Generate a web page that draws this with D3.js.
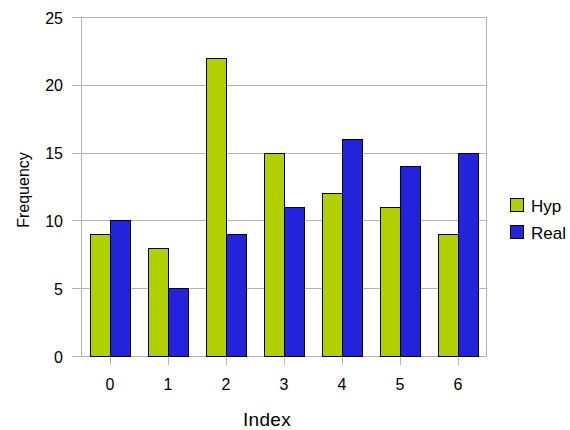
<!DOCTYPE html>
<html><head><meta charset="utf-8">
<script src="https://cdn.jsdelivr.net/npm/d3@7"></script>
<style>body{margin:0;background:#fff}svg{display:block}text{font-family:"Liberation Sans",Arial,sans-serif;fill:#000}</style>
</head><body>
<script>
const categories = ["0","1","2","3","4","5","6"];
const seriesNames = ["Hyp","Real"];
const hyp = [9, 8, 22, 15, 12, 11, 9];
const real = [10, 5, 9, 11, 16, 14, 15];
const yTicks = [0, 5, 10, 15, 20, 25];
const colors = ["#b2d000", "#2323dc"];

(function () {
const W = 570, H = 430;
const mLeft = 81, mRight = 487, mTop = 17, mBottom = 356;
const svg = d3.select("body").append("svg").attr("width", W).attr("height", H);

const x = d3.scaleBand().domain(categories).range([mLeft, mRight]).paddingInner(0).paddingOuter(0);
const x1 = d3.scaleBand().domain(seriesNames).range([0, x.bandwidth()]).paddingInner(0).paddingOuter(0.45);
const y = d3.scaleLinear().domain([0, 25]).range([mBottom, mTop]);

// gridlines
svg.append("g").selectAll("line").data(yTicks).join("line")
  .attr("x1", mLeft - 9).attr("x2", mRight)
  .attr("y1", d => Math.round(y(d)) + 0.5).attr("y2", d => Math.round(y(d)) + 0.5)
  .attr("stroke", "#b3b3b3").attr("stroke-width", 1);
// y axis line and right border
svg.append("line").attr("x1", mLeft + 0.5).attr("x2", mLeft + 0.5).attr("y1", mTop).attr("y2", mBottom)
  .attr("stroke", "#b3b3b3");
svg.append("line").attr("x1", mRight - 0.5).attr("x2", mRight - 0.5).attr("y1", mTop).attr("y2", mBottom)
  .attr("stroke", "#b3b3b3");
// x ticks
svg.append("g").selectAll("line").data(categories).join("line")
  .attr("x1", d => Math.round(x(d) + x.bandwidth() / 2) + 0.5)
  .attr("x2", d => Math.round(x(d) + x.bandwidth() / 2) + 0.5)
  .attr("y1", mBottom).attr("y2", mBottom + 9).attr("stroke", "#b3b3b3");

// y tick labels
svg.append("g").selectAll("text").data(yTicks).join("text")
  .attr("x", 63).attr("y", d => y(d) + 6.5).attr("text-anchor", "end")
  .attr("font-size", 16).text(d => d);
// x tick labels
svg.append("g").selectAll("text").data(categories).join("text")
  .attr("x", d => x(d) + x.bandwidth() / 2).attr("y", 390).attr("text-anchor", "middle")
  .attr("font-size", 16).text(d => d);

// bars
const data = categories.map((c, i) => ({c, vals: [hyp[i], real[i]]}));
const groups = svg.append("g").selectAll("g").data(data).join("g")
  .attr("transform", d => `translate(${x(d.c)},0)`);
groups.selectAll("rect").data(d => d.vals.map((v, j) => ({v, s: seriesNames[j], j})))
  .join("rect")
  .attr("x", d => Math.round(x1(d.s)) + 0.5)
  .attr("width", Math.round(x1.bandwidth()))
  .attr("y", d => Math.round(y(d.v)) + 0.5)
  .attr("height", d => Math.round(y(0)) - Math.round(y(d.v)))
  .attr("fill", d => colors[d.j])
  .attr("stroke", "#000").attr("stroke-width", 1);

// axis titles
svg.append("text").attr("x", 267).attr("y", 426).attr("text-anchor", "middle")
  .attr("font-size", 19).attr("letter-spacing", 0.3).text("Index");
svg.append("text").attr("transform", "translate(29,190) rotate(-90)").attr("text-anchor", "middle")
  .attr("font-size", 16).text("Frequency");

// legend
const lg = svg.append("g").selectAll("g").data(seriesNames).join("g")
  .attr("transform", (d, i) => `translate(510,${198 + i * 27})`);
lg.append("rect").attr("x", 0.5).attr("y", 0.5).attr("width", 13).attr("height", 13)
  .attr("fill", (d, i) => colors[i]).attr("stroke", "#000");
lg.append("text").attr("x", 21).attr("y", 14).attr("font-size", 17).text(d => d);
})();
</script>
</body></html>
